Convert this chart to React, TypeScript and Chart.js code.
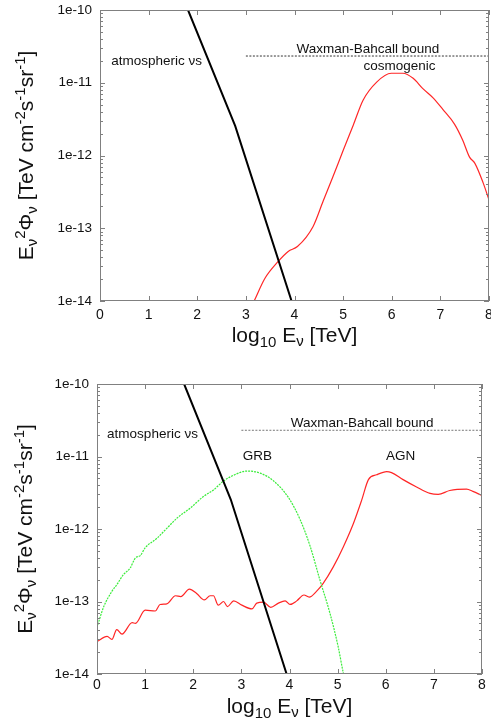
import React, { useEffect, useRef } from "react";
import { Chart, registerables } from "chart.js";

Chart.register(...registerables);

// ---------- data ----------
const energyTicks = [0, 1, 2, 3, 4, 5, 6, 7, 8];
const fluxTicks = [1e-14, 1e-13, 1e-12, 1e-11, 1e-10];
const minorMultipliers = [2, 3, 4, 5, 6, 7, 8, 9];

// atmospheric neutrinos (same in both panels)
const atmLogE = [1.7, 1.81, 2.78, 3.94, 4.0];
const atmFlux = [1.5e-10, 1.0e-10, 2.55e-12, 1.0e-14, 7.6e-15];

// Waxman-Bahcall bound
const wbLogE = [3.0, 8.0];
const wbFluxTop = [2.33e-11, 2.33e-11];
const wbFluxBottom = [2.3e-11, 2.3e-11];

// cosmogenic neutrinos (top panel)
const cosmoLogE = [3.17, 3.39, 3.66, 3.87, 4.06, 4.38, 4.59, 4.79, 5.0, 5.21, 5.41, 5.69, 5.99, 6.23, 6.44, 6.64, 6.85, 7.05, 7.29, 7.46, 7.6, 7.71, 7.88, 8.0];
const cosmoFlux = [1.0e-14, 2.04e-14, 3.47e-14, 4.8e-14, 5.6e-14, 1.05e-13, 2.37e-13, 5.1e-13, 1.17e-12, 2.63e-12, 5.75e-12, 1.02e-11, 1.35e-11, 1.35e-11, 1.15e-11, 8.3e-12, 6.2e-12, 4.3e-12, 2.7e-12, 1.62e-12, 9.5e-13, 7.8e-13, 4.2e-13, 2.45e-13];

// GRB neutrinos (bottom panel)
const grbLogE = [0.0, 0.14, 0.31, 0.41, 0.55, 0.69, 0.8, 0.9, 1.0, 1.24, 1.45, 1.66, 1.94, 2.21, 2.42, 2.63, 2.9, 3.11, 3.39, 3.67, 3.98, 4.22, 4.43, 4.63, 4.84, 5.01, 5.12, 5.16];
const grbFlux = [4.4e-14, 8.5e-14, 1.38e-13, 1.7e-13, 2.35e-13, 2.9e-13, 4.0e-13, 4.3e-13, 5.5e-13, 7.4e-13, 1.02e-12, 1.41e-12, 1.95e-12, 2.8e-12, 3.45e-12, 4.6e-12, 5.75e-12, 6.3e-12, 5.9e-12, 4.6e-12, 2.7e-12, 1.35e-12, 5.75e-13, 2.0e-13, 6.9e-14, 2.4e-14, 1.02e-14, 8.0e-15];

// AGN neutrinos (bottom panel)
const agnLogE = [0.0, 0.21, 0.31, 0.41, 0.52, 0.73, 0.8, 1.0, 1.21, 1.31, 1.45, 1.63, 1.74, 1.92, 2.07, 2.23, 2.35, 2.42, 2.52, 2.63, 2.71, 2.84, 3.01, 3.22, 3.32, 3.46, 3.61, 3.77, 3.91, 4.01, 4.15, 4.3, 4.41, 4.56, 4.7, 4.91, 5.12, 5.33, 5.5, 5.64, 5.81, 6.02, 6.12, 6.36, 6.64, 6.92, 7.09, 7.33, 7.68, 7.81, 8.0];
const agnFlux = [2.8e-14, 3.3e-14, 3.0e-14, 4.1e-14, 3.55e-14, 5.1e-14, 5.0e-14, 7.6e-14, 7.4e-14, 9.1e-14, 9.3e-14, 1.2e-13, 1.17e-13, 1.48e-13, 1.29e-13, 1.05e-13, 1.2e-13, 1.2e-13, 8.9e-14, 1.0e-13, 8.5e-14, 1.02e-13, 8.9e-14, 7.9e-14, 9.5e-14, 9.8e-14, 8.3e-14, 9.5e-14, 1.02e-13, 9.1e-14, 1.02e-13, 1.23e-13, 1.15e-13, 1.38e-13, 1.78e-13, 3.0e-13, 5.7e-13, 1.2e-12, 2.5e-12, 4.8e-12, 5.6e-12, 6.2e-12, 6.0e-12, 4.8e-12, 3.8e-12, 3.1e-12, 3.0e-12, 3.4e-12, 3.55e-12, 3.3e-12, 2.9e-12];

// ---------- styling ----------
const FONT = "'Liberation Sans', Arial, sans-serif";
const TEXT = "#111111";
const FRAME = "#808080";

type Seg = { t: string; s: number; dy: number };

const xTitleSegs: Seg[] = [
  { t: "log", s: 21, dy: 0 },
  { t: "10", s: 15, dy: 5 },
  { t: " E", s: 21, dy: 0 },
  { t: "ν", s: 15, dy: 4 },
  { t: " [TeV]", s: 21, dy: 0 },
];

const yTitleSegs: Seg[] = [
  { t: "E", s: 21, dy: 0 },
  { t: "ν", s: 15, dy: 4 },
  { t: "2", s: 15, dy: -8 },
  { t: "Φ", s: 21, dy: 0 },
  { t: "ν", s: 15, dy: 4 },
  { t: " [TeV cm", s: 21, dy: 0 },
  { t: "-2", s: 15, dy: -8 },
  { t: "s", s: 21, dy: 0 },
  { t: "-1", s: 15, dy: -8 },
  { t: "sr", s: 21, dy: 0 },
  { t: "-1", s: 15, dy: -8 },
  { t: "]", s: 21, dy: 0 },
];

type Note = { text: string; x: number; y: number; align: CanvasTextAlign };

const topNotes: Note[] = [
  { text: "atmospheric νs", x: 0.23, y: 2.0e-11, align: "left" },
  { text: "Waxman-Bahcall bound", x: 5.51, y: 2.9e-11, align: "center" },
  { text: "cosmogenic", x: 6.16, y: 1.7e-11, align: "center" },
];

const bottomNotes: Note[] = [
  { text: "atmospheric νs", x: 0.21, y: 2.0e-11, align: "left" },
  { text: "Waxman-Bahcall bound", x: 5.51, y: 2.9e-11, align: "center" },
  { text: "GRB", x: 3.33, y: 1.02e-11, align: "center" },
  { text: "AGN", x: 6.31, y: 1.02e-11, align: "center" },
];

function drawRich(ctx: CanvasRenderingContext2D, segs: Seg[], x: number, y: number, rotate: boolean) {
  ctx.save();
  ctx.translate(x, y);
  if (rotate) ctx.rotate(-Math.PI / 2);
  let total = 0;
  for (const g of segs) {
    ctx.font = `${g.s}px ${FONT}`;
    total += ctx.measureText(g.t).width;
  }
  let cx = -total / 2;
  ctx.textBaseline = "alphabetic";
  ctx.textAlign = "left";
  ctx.fillStyle = TEXT;
  for (const g of segs) {
    ctx.font = `${g.s}px ${FONT}`;
    ctx.fillText(g.t, cx, g.dy);
    cx += ctx.measureText(g.t).width;
  }
  ctx.restore();
}

type PanelCfg = {
  height: number;
  area: { left: number; right: number; top: number; bottom: number };
  datasets: any[];
  notes: Note[];
  xTitleDrop: number;
  yTitleX: number;
  xLabelPad: number;
};

function makeSeries(xs: number[], ys: number[]) {
  return xs.map((x, i) => ({ x, y: ys[i] }));
}

function Panel({ top, cfg }: { top: number; cfg: PanelCfg }) {
  const ref = useRef<HTMLCanvasElement>(null);
  useEffect(() => {
    const W = 491;
    const H = cfg.height;
    const a = cfg.area;
    const decorPlugin = {
      id: "decor",
      afterDatasetsDraw(chart: any) {
        const ctx: CanvasRenderingContext2D = chart.ctx;
        const ca = chart.chartArea;
        const xs = chart.scales.x;
        const ys = chart.scales.y;
        ctx.save();
        ctx.strokeStyle = FRAME;
        ctx.lineWidth = 1;
        ctx.setLineDash([]);
        ctx.beginPath();
        // x ticks top & bottom
        for (const v of energyTicks) {
          const px = Math.round(xs.getPixelForValue(v)) + 0.5;
          ctx.moveTo(px, ca.bottom);
          ctx.lineTo(px, ca.bottom - 5);
          ctx.moveTo(px, ca.top);
          ctx.lineTo(px, ca.top + 5);
        }
        // y ticks left & right
        for (let i = 0; i < fluxTicks.length; i++) {
          const d = fluxTicks[i];
          const py = Math.round(ys.getPixelForValue(d)) + 0.5;
          ctx.moveTo(ca.left, py);
          ctx.lineTo(ca.left + 5, py);
          ctx.moveTo(ca.right, py);
          ctx.lineTo(ca.right - 5, py);
          if (i < fluxTicks.length - 1) {
            for (const m of minorMultipliers) {
              const pm = Math.round(ys.getPixelForValue(d * m)) + 0.5;
              ctx.moveTo(ca.left, pm);
              ctx.lineTo(ca.left + 3, pm);
              ctx.moveTo(ca.right, pm);
              ctx.lineTo(ca.right - 3, pm);
            }
          }
        }
        ctx.stroke();
        ctx.strokeRect(ca.left + 0.5, ca.top + 0.5, ca.right - ca.left - 1, ca.bottom - ca.top - 1);
        // notes
        ctx.fillStyle = TEXT;
        ctx.font = `13.5px ${FONT}`;
        ctx.textBaseline = "middle";
        for (const n of cfg.notes) {
          ctx.textAlign = n.align;
          ctx.fillText(n.text, xs.getPixelForValue(n.x), ys.getPixelForValue(n.y));
        }
        // titles
        drawRich(ctx, xTitleSegs, (ca.left + ca.right) / 2, ca.bottom + cfg.xTitleDrop, false);
        drawRich(ctx, yTitleSegs, cfg.yTitleX, (ca.top + ca.bottom) / 2, true);
        ctx.restore();
      },
    };
    const chart = new Chart(ref.current as HTMLCanvasElement, {
      type: "line",
      data: { datasets: cfg.datasets },
      options: {
        responsive: false,
        devicePixelRatio: 1,
        animation: false,
        events: [],
        layout: { padding: { top: a.top, right: W - a.right, left: 0, bottom: 0 } },
        plugins: { legend: { display: false }, tooltip: { enabled: false } },
        elements: { point: { radius: 0 } },
        scales: {
          x: {
            type: "linear",
            min: 0,
            max: 8,
            grid: { display: false, drawTicks: false },
            border: { display: false },
            afterBuildTicks: (s: any) => {
              s.ticks = energyTicks.map((v) => ({ value: v }));
            },
            afterFit: (s: any) => {
              s.height = H - a.bottom;
              s.paddingLeft = 0;
              s.paddingRight = 0;
            },
            ticks: {
              color: TEXT,
              padding: cfg.xLabelPad,
              maxRotation: 0,
              autoSkip: false,
              font: { family: FONT, size: 14 },
              callback: (v: any) => String(v),
            },
          },
          y: {
            type: "logarithmic",
            min: 1e-14,
            max: 1e-10,
            grid: { display: false, drawTicks: false },
            border: { display: false },
            afterBuildTicks: (s: any) => {
              s.ticks = fluxTicks.map((v) => ({ value: v }));
            },
            afterFit: (s: any) => {
              s.width = a.left;
              s.paddingTop = 0;
              s.paddingBottom = 0;
            },
            ticks: {
              color: TEXT,
              padding: 8,
              autoSkip: false,
              font: { family: FONT, size: 13.5 },
              callback: (v: any) => "1e" + Math.round(Math.log10(Number(v))),
            },
          },
        },
      } as any,
      plugins: [decorPlugin],
    });
    return () => chart.destroy();
  }, []);
  return (
    <canvas
      ref={ref}
      width={491}
      height={cfg.height}
      style={{ position: "absolute", left: 0, top, width: 491, height: cfg.height, display: "block" }}
    />
  );
}

const redLine = { borderColor: "#ff2626", borderWidth: 1.2, cubicInterpolationMode: "monotone", fill: false };
const atmLine = { borderColor: "#000000", borderWidth: 2, tension: 0, fill: false };

const topCfg: PanelCfg = {
  height: 360,
  area: { left: 100, right: 489, top: 10, bottom: 301 },
  xTitleDrop: 40.5,
  yTitleX: 33,
  xLabelPad: 6,
  notes: topNotes,
  datasets: [
    { ...atmLine, data: makeSeries(atmLogE, atmFlux) },
    { borderColor: "#333333", borderWidth: 1, borderDash: [2, 1.5], fill: false, data: makeSeries(wbLogE, wbFluxTop) },
    { ...redLine, data: makeSeries(cosmoLogE, cosmoFlux) },
  ],
};

const bottomCfg: PanelCfg = {
  height: 361,
  area: { left: 97, right: 482, top: 24, bottom: 314 },
  xTitleDrop: 39.3,
  yTitleX: 31.5,
  xLabelPad: 3,
  notes: bottomNotes,
  datasets: [
    { ...atmLine, data: makeSeries(atmLogE, atmFlux) },
    { borderColor: "#777777", borderWidth: 1, borderDash: [2, 1.5], fill: false, data: makeSeries(wbLogE, wbFluxBottom) },
    { borderColor: "#3cec3c", borderWidth: 1.2, borderDash: [2, 1], cubicInterpolationMode: "monotone", fill: false, data: makeSeries(grbLogE, grbFlux) },
    { ...redLine, data: makeSeries(agnLogE, agnFlux) },
  ],
};

export default function App() {
  return (
    <div style={{ position: "absolute", left: 0, top: 0, width: 491, height: 721, background: "#fff", overflow: "hidden" }}>
      <Panel top={0} cfg={topCfg} />
      <Panel top={360} cfg={bottomCfg} />
    </div>
  );
}
